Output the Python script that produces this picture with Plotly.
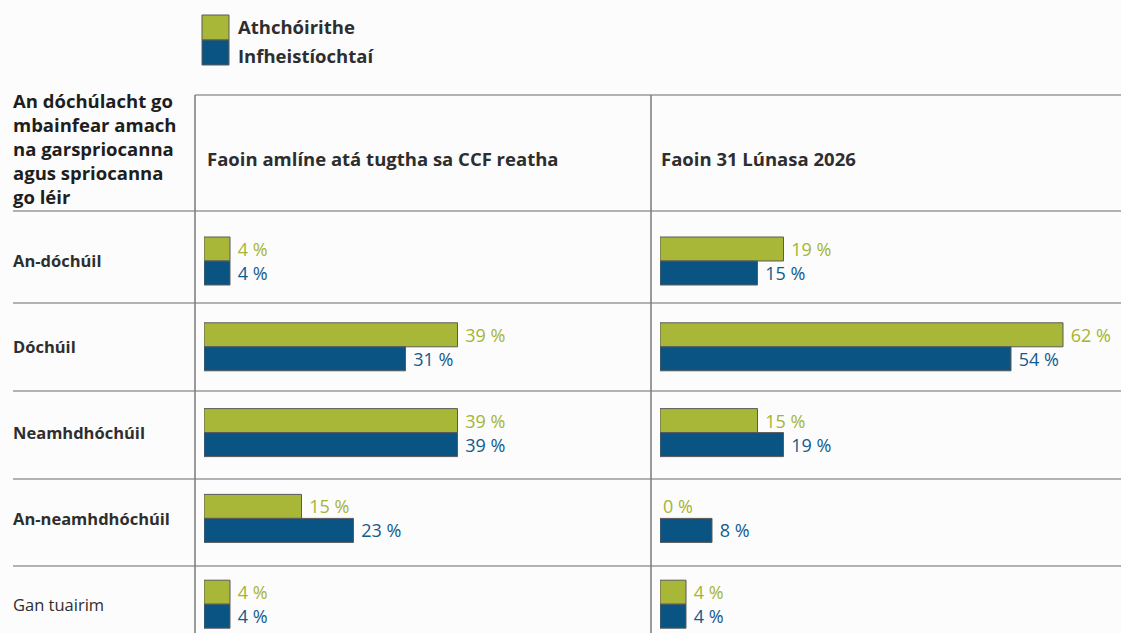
import plotly.graph_objects as go

# ---------------- data ----------------
categories = ["An-dóchúil", "Dóchúil", "Neamhdhóchúil", "An-neamhdhóchúil", "Gan tuairim"]
series_names = ["Athchóirithe", "Infheistíochtaí"]
panel_titles = ["Faoin amlíne atá tugtha sa CCF reatha", "Faoin 31 Lúnasa 2026"]
athch_ccf = [4, 39, 39, 15, 4]
infh_ccf = [4, 31, 39, 23, 4]
athch_2026 = [19, 62, 15, 0, 4]
infh_2026 = [15, 54, 19, 8, 4]
corner_title = "An dóchúlacht go<br>mbainfear amach<br>na garspriocanna<br>agus spriocanna<br>go léir"

# ---------------- style ----------------
W, H = 1121, 633
FONT = "Open Sans"
TXT = "#2e2e2e"
GREEN = "#a8b738"
BLUE = "#0a5484"
GREEN_T = "#a5b434"
BLUE_T = "#135b8c"
LINE = "#9a9a9a"
BG = "#fcfcfc"
PX_PER_PCT = 6.5

def px(x):
    return x / W

def py(y):
    return 1 - y / H

# category axis mapping: first row centre at 261px, spacing 85.8px, plot area 211..633
C0, STEP = 261.0, 85.8
c_top = (211 - C0) / STEP
c_bot = (633 - C0) / STEP

fig = go.Figure()

panels = [("x", athch_ccf, infh_ccf), ("x2", athch_2026, infh_2026)]
for xa, g_vals, b_vals in panels:
    for name, vals, fill, tcol in [(series_names[0], g_vals, GREEN, GREEN_T),
                                   (series_names[1], b_vals, BLUE, BLUE_T)]:
        fig.add_trace(go.Bar(
            x=vals, y=categories, orientation="h", name=name,
            xaxis=xa, yaxis="y",
            marker=dict(color=fill,
                        line=dict(color="#5a5a5a", width=[0 if v == 0 else 1 for v in vals])),
            text=[(f" {v} %" if v else f"{v} %") for v in vals], textposition="outside",
            outsidetextfont=dict(family=FONT, size=18, color=tcol),
            constraintext="none", cliponaxis=False,
            showlegend=False, hoverinfo="skip",
        ))

d1 = [px(204), px(640)]
d2 = [px(660), px(1121)]
fig.update_layout(
    width=W, height=H,
    margin=dict(l=0, r=0, t=0, b=0, pad=0),
    paper_bgcolor=BG, plot_bgcolor=BG,
    barmode="group", bargap=1 - 48 / STEP, bargroupgap=0,
    font=dict(family=FONT, color=TXT),
    xaxis=dict(domain=d1, range=[0, (d1[1] - d1[0]) * W / PX_PER_PCT],
               showgrid=False, zeroline=False, showticklabels=False, showline=False),
    xaxis2=dict(domain=d2, range=[0, (d2[1] - d2[0]) * W / PX_PER_PCT], anchor="y",
                showgrid=False, zeroline=False, showticklabels=False, showline=False),
    yaxis=dict(domain=[0, py(211)], type="category", range=[c_bot, c_top],
               showgrid=False, zeroline=False, showticklabels=False, showline=False),
)

shapes = []
# table lines
shapes.append(dict(type="line", xref="paper", yref="paper", x0=px(195), x1=1, y0=py(95), y1=py(95),
                   line=dict(color=LINE, width=1.5)))
for yy in [211, 303, 391, 479, 566]:
    shapes.append(dict(type="line", xref="paper", yref="paper", x0=px(13), x1=1, y0=py(yy), y1=py(yy),
                       line=dict(color=LINE, width=1.5)))
for xx in [195, 651]:
    shapes.append(dict(type="line", xref="paper", yref="paper", x0=px(xx), x1=px(xx), y0=py(95), y1=0,
                       line=dict(color="#7a7a7a", width=1.5)))
# legend swatches
for (y0, y1), col in zip([(15, 40), (40, 65)], [GREEN, BLUE]):
    shapes.append(dict(type="rect", xref="paper", yref="paper", x0=px(202), x1=px(229), y0=py(y1), y1=py(y0),
                       fillcolor=col, line=dict(color="#5a5a5a", width=1)))
fig.update_layout(shapes=shapes)

ann = []
for name, yc in zip(series_names, [27, 56]):
    ann.append(dict(text=f"<b>{name}</b>", xref="paper", yref="paper", x=px(236), y=py(yc),
                    xanchor="left", yanchor="middle", showarrow=False,
                    font=dict(family=FONT, size=18.5, color=TXT)))
ann.append(dict(text=f"<b>{corner_title}</b>", xref="paper", yref="paper", x=px(11), y=py(148),
                xanchor="left", yanchor="middle", align="left", showarrow=False,
                font=dict(family=FONT, size=18.5, color="#1e1e1e")))
for title, xx in zip(panel_titles, [205, 659]):
    ann.append(dict(text=f"<b>{title}</b>", xref="paper", yref="paper", x=px(xx), y=py(158),
                    xanchor="left", yanchor="middle", showarrow=False,
                    font=dict(family=FONT, size=18.5, color=TXT)))
for i, cat in enumerate(categories):
    label = cat if i == len(categories) - 1 else f"<b>{cat}</b>"
    ann.append(dict(text=label, xref="paper", yref="y", x=px(11), y=cat,
                    xanchor="left", yanchor="middle", showarrow=False,
                    font=dict(family=FONT, size=16.5, color=TXT)))
fig.update_layout(annotations=ann)

fig.write_html("out.html", config={"displayModeBar": False},
               post_script="document.body.style.margin='0';document.body.style.padding='0';")
